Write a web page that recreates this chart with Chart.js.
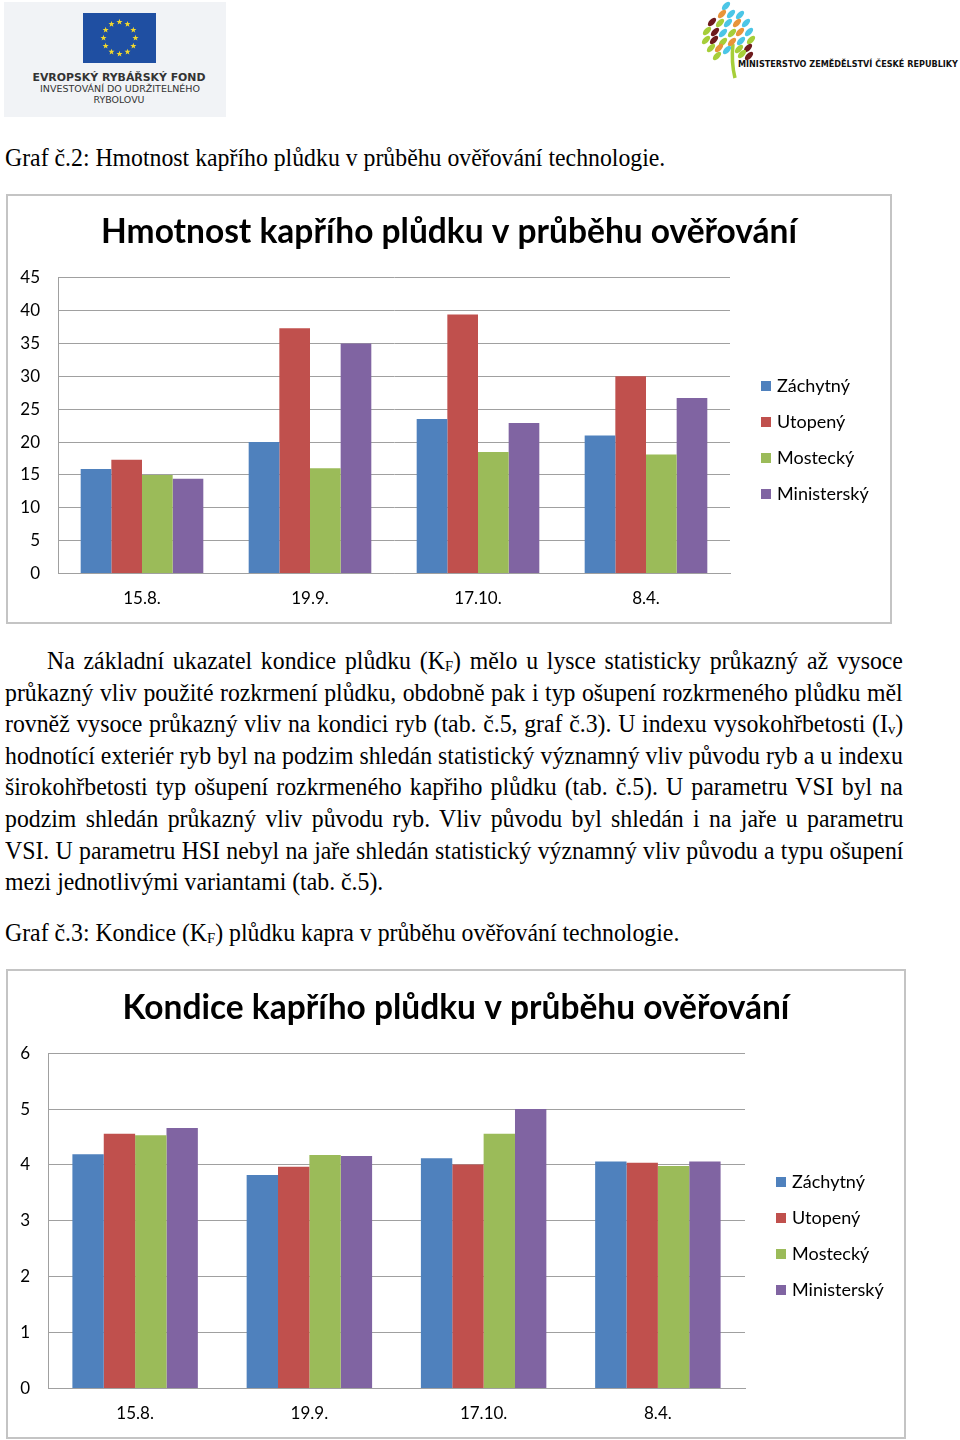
<!DOCTYPE html>
<html>
<head>
<meta charset="utf-8">
<script src="https://cdn.jsdelivr.net/npm/chart.js@4.4.1/dist/chart.umd.min.js"></script>
<style>
  body { margin: 0; width: 960px; height: 1440px; position: relative; overflow: hidden; background: #fff; color: #000; }
  .box { position: absolute; border: 2px solid #c4c4c4; background: #fff; }
  .box canvas { display: block; }
  .tl { position: absolute; white-space: nowrap; font-family: 'Liberation Serif', 'Times New Roman', serif; font-size: 25px; line-height: 28px; transform-origin: 0 0; }
  .tl sub { font-size: 0.62em; vertical-align: -0.15em; }
  .legend { position: absolute; font-family: Lato, sans-serif; font-size: 18px; }
  .legend div { position: absolute; white-space: nowrap; line-height: 20px; }
  .legend span { display: inline-block; width: 10px; height: 10px; margin-right: 6px; vertical-align: 1px; }
</style>
</head>
<body>

<!-- logos -->
<svg width="240" height="120" style="position:absolute;left:0;top:0">
  <rect x="4" y="2" width="222" height="115" fill="#f1f3f6"/>
  <rect x="83" y="13" width="73" height="50" fill="#1f4fa2"/>
  <g id="stars" fill="#f2d82c"></g>
  <text x="119" y="81" text-anchor="middle" font-family="DejaVu Sans" font-weight="bold" font-size="10.5" fill="#333" textLength="173" lengthAdjust="spacingAndGlyphs">EVROPSKÝ RYBÁŘSKÝ FOND</text>
  <text x="120" y="92" text-anchor="middle" font-family="DejaVu Sans" font-size="8.5" fill="#333" textLength="160" lengthAdjust="spacingAndGlyphs">INVESTOVÁNÍ DO UDRŽITELNÉHO</text>
  <text x="119" y="103" text-anchor="middle" font-family="DejaVu Sans" font-size="8.5" fill="#333" textLength="51" lengthAdjust="spacingAndGlyphs">RYBOLOVU</text>
</svg>
<svg width="270" height="90" style="position:absolute;left:690px;top:0">
  <path d="M45 78 Q41 62 43 44" stroke="#a6ce39" stroke-width="3.5" fill="none"/>
  <g id="leaves"></g>
  <text x="48" y="67" font-family="DejaVu Sans" font-weight="bold" font-size="9.5" fill="#111" textLength="220" lengthAdjust="spacingAndGlyphs">MINISTERSTVO ZEMĚDĚLSTVÍ ČESKÉ REPUBLIKY</text>
</svg>

<div class="box" style="left:6px;top:194px;width:882px;height:426px"><canvas id="c1" width="882" height="426"></canvas></div>
<div class="legend" id="lg1" style="left:761px;top:0"></div>

<div class="box" style="left:6px;top:969px;width:896px;height:466px"><canvas id="c2" width="896" height="466"></canvas></div>
<div class="legend" id="lg2" style="left:776px;top:0"></div>

<script>
// data
const categories = ['15.8.', '19.9.', '17.10.', '8.4.'];
const seriesNames = ['Záchytný', 'Utopený', 'Mostecký', 'Ministerský'];
const seriesColors = ['#4F81BD', '#C0504D', '#9BBB59', '#8064A2'];

// Graf 2 - hmotnost
const hmotZachytny = [15.9, 20.0, 23.5, 21.0];
const hmotUtopeny = [17.3, 37.3, 39.4, 30.0];
const hmotMostecky = [15.0, 16.0, 18.5, 18.1];
const hmotMinistersky = [14.4, 35.0, 22.9, 26.7];
const hmotMax = 45, hmotStep = 5;

// Graf 3 - kondice
const kondZachytny = [4.19, 3.82, 4.12, 4.06];
const kondUtopeny = [4.56, 3.97, 4.01, 4.04];
const kondMostecky = [4.53, 4.18, 4.56, 3.98];
const kondMinistersky = [4.66, 4.16, 5.0, 4.06];
const kondMax = 6, kondStep = 1;

Chart.defaults.font.family = 'Lato, sans-serif';
Chart.defaults.color = '#000';

function makeChart(id, o) {
  return new Chart(document.getElementById(id), {
    type: 'bar',
    data: {
      labels: categories,
      datasets: o.series.map((d, i) => ({
        label: seriesNames[i],
        data: d,
        backgroundColor: seriesColors[i],
        borderWidth: 0,
        barPercentage: 1,
        categoryPercentage: o.catPct
      }))
    },
    options: {
      responsive: false,
      animation: false,
      layout: { padding: { left: 0, top: 0, right: 0, bottom: o.padBottom } },
      plugins: {
        legend: { display: false },
        tooltip: { enabled: false },
        title: {
          display: true,
          text: o.title,
          color: '#000',
          font: { size: o.titleSize, weight: 'bold' },
          padding: { top: o.titleTop, bottom: o.titleBottom }
        }
      },
      scales: {
        x: {
          grid: { display: false, drawTicks: false },
          border: { color: '#a0a0a0' },
          ticks: { color: '#000', font: { size: 17 }, padding: 15 },
          afterFit: s => { s.height = 35; }
        },
        y: {
          min: 0,
          max: o.max,
          ticks: { stepSize: o.step, color: '#000', font: { size: 17 }, padding: o.tickPad },
          grid: { color: '#a0a0a0', drawTicks: false },
          border: { color: '#a0a0a0' },
          afterFit: s => { s.width = o.axisW; }
        },
        // empty right axis keeps room for the legend, title stays centred on the whole box
        side: {
          position: 'right',
          min: 0,
          max: o.max,
          grid: { display: false, drawTicks: false },
          border: { display: false },
          ticks: { display: false },
          afterFit: s => { s.width = o.padRight; }
        }
      }
    }
  });
}

makeChart('c1', {
  series: [hmotZachytny, hmotUtopeny, hmotMostecky, hmotMinistersky],
  title: 'Hmotnost kapřího plůdku v průběhu ověřování',
  titleSize: 33.5, titleTop: 16, titleBottom: 25.5,
  max: hmotMax, step: hmotStep,
  catPct: 0.73, padRight: 160, padBottom: 13.5,
  axisW: 50, tickPad: 18
});

makeChart('c2', {
  series: [kondZachytny, kondUtopeny, kondMostecky, kondMinistersky],
  title: 'Kondice kapřího plůdku v průběhu ověřování',
  titleSize: 33.5, titleTop: 17, titleBottom: 25,
  max: kondMax, step: kondStep,
  catPct: 0.72, padRight: 159, padBottom: 13.5,
  axisW: 40, tickPad: 18
});

// legends
function legend(id, top0) {
  const el = document.getElementById(id);
  seriesNames.forEach((n, i) => {
    const d = document.createElement('div');
    d.style.top = (top0 + i * 36 - 10) + 'px';
    d.innerHTML = '<span style="background:' + seriesColors[i] + '"></span>' + n;
    el.appendChild(d);
  });
}
legend('lg1', 385);
legend('lg2', 1181);

// document text
const captions = [
  { y: 158, html: 'Graf č.2: Hmotnost kapřího plůdku v průběhu ověřování technologie.' },
  { y: 933, html: 'Graf č.3: Kondice (K<sub>F</sub>) plůdku kapra v průběhu ověřování technologie.' }
];
const paragraph = [
  'Na základní ukazatel kondice plůdku (K<sub>F</sub>) mělo u lysce statisticky průkazný až vysoce',
  'průkazný vliv použité rozkrmení plůdku, obdobně pak i typ ošupení rozkrmeného plůdku měl',
  'rovněž vysoce průkazný vliv na kondici ryb (tab. č.5, graf č.3). U indexu vysokohřbetosti (I<sub>v</sub>)',
  'hodnotící exteriér ryb byl na podzim shledán statistický významný vliv původu ryb a u indexu',
  'širokohřbetosti typ ošupení rozkrmeného kapřiho plůdku (tab. č.5). U parametru VSI byl na',
  'podzim shledán průkazný vliv původu ryb. Vliv původu byl shledán i na jaře u parametru',
  'VSI. U parametru HSI nebyl na jaře shledán statistický významný vliv původu a typu ošupení',
  'mezi jednotlivými variantami (tab. č.5).'
];

function put(html, x, cy) {
  const d = document.createElement('div');
  d.className = 'tl';
  d.innerHTML = html;
  d.style.left = x + 'px';
  d.style.top = (cy - 14) + 'px';
  document.body.appendChild(d);
  return d;
}

const cap = captions.map(c => put(c.html, 5, c.y));
const sx = 660 / cap[0].offsetWidth;
cap.forEach(d => { d.style.transform = 'scaleX(' + sx + ')'; });

paragraph.forEach((html, i) => {
  const x = i === 0 ? 47 : 5;
  const d = put(html, x, 661 + i * 31.6);
  if (i < paragraph.length - 1) {
    const target = (903 - x) / sx;
    const spaces = d.textContent.split(' ').length - 1;
    d.style.wordSpacing = ((target - d.offsetWidth) / spaces) + 'px';
  }
  d.style.transform = 'scaleX(' + sx + ')';
});

// logo decoration
const stars = document.getElementById('stars');
for (let k = 0; k < 12; k++) {
  const a = k * Math.PI / 6;
  const cx = 119.5 + 16 * Math.sin(a), cy = 38 - 16 * Math.cos(a);
  let p = '';
  for (let j = 0; j < 10; j++) {
    const r = j % 2 ? 1.3 : 3.2, b = j * Math.PI / 5;
    p += (j ? 'L' : 'M') + (cx + r * Math.sin(b)).toFixed(2) + ' ' + (cy - r * Math.cos(b)).toFixed(2);
  }
  const s = document.createElementNS('http://www.w3.org/2000/svg', 'path');
  s.setAttribute('d', p + 'Z');
  stars.appendChild(s);
}
const leafCol = { c: '#4cc6e6', o: '#e8943a', m: '#6e1b1d', g: '#a6ce39' };
const leaves = [
  [36,6,'c'],[32,14,'o'],[41,14,'c'],[50,15,'c'],
  [22,22,'m'],[30,23,'g'],[38,23,'c'],[47,23,'o'],[56,23,'c'],
  [17,31,'g'],[25,32,'m'],[33,33,'c'],[42,33,'g'],[50,32,'o'],[59,32,'c'],
  [16,40,'g'],[24,40,'m'],[33,42,'g'],[42,42,'o'],[51,41,'c'],[61,40,'g'],
  [21,48,'g'],[29,48,'o'],[37,50,'c'],[49,49,'g'],[58,48,'m'],
  [27,56,'g'],[52,54,'g'],[59,56,'m']
];
const lg = document.getElementById('leaves');
leaves.forEach(([x, y, c]) => {
  const e = document.createElementNS('http://www.w3.org/2000/svg', 'ellipse');
  e.setAttribute('cx', x); e.setAttribute('cy', y);
  e.setAttribute('rx', 5.2); e.setAttribute('ry', 2.7);
  e.setAttribute('transform', 'rotate(-45 ' + x + ' ' + y + ')');
  e.setAttribute('fill', leafCol[c]);
  lg.appendChild(e);
});
</script>
</body>
</html>
